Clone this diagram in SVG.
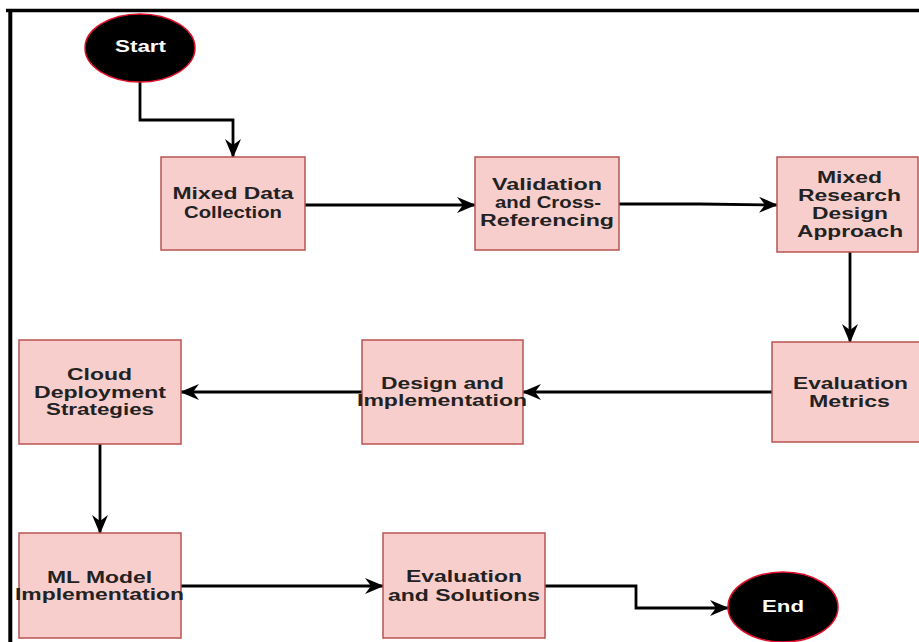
<svg xmlns="http://www.w3.org/2000/svg" width="919" height="642" viewBox="0 0 919 642">
<style>
.box{fill:#f8cecc;stroke:#b85450;stroke-width:1.5}
.term{fill:#000;stroke:#e0102a;stroke-width:1.5}
.t{font-family:"Liberation Sans",Arial,sans-serif;font-weight:bold;font-size:16px;fill:#222;text-anchor:middle}
.tw{font-family:"Liberation Sans",Arial,sans-serif;font-weight:bold;font-size:16px;fill:#fff;text-anchor:middle}
.c{fill:none;stroke:#000;stroke-width:2.8;marker-end:url(#arr)}
</style>
<defs>
<marker id="arr" viewBox="0 0 19 16" refX="18" refY="8" markerWidth="19" markerHeight="16" markerUnits="userSpaceOnUse" orient="auto">
<path d="M0,0 L19,8 L0,16 L6,8 z" fill="#000"/>
</marker>
</defs>
<rect width="919" height="642" fill="#fff"/>
<g id="frame">
<line x1="6" y1="10.5" x2="919" y2="10.5" stroke="#000" stroke-width="3.5"/>
<line x1="10.3" y1="9" x2="10.3" y2="642" stroke="#000" stroke-width="4"/>
</g>
<g id="connectors">
<path class="c" d="M140,82 V120 H233 V157"/>
<path class="c" d="M305,205 H475"/>
<path class="c" d="M619,204 H700 L777,205"/>
<path class="c" d="M850,252 V342"/>
<path class="c" d="M772,392 H523"/>
<path class="c" d="M362,392 H181"/>
<path class="c" d="M100,444 V533"/>
<path class="c" d="M181,586 H383"/>
<path class="c" d="M545,586 H636 V608 H728"/>
</g>
<g id="start">
<ellipse class="term" cx="140" cy="48" rx="55" ry="34"/>
<text class="tw" x="140.5" y="52" textLength="51" lengthAdjust="spacingAndGlyphs">Start</text>
</g>
<g id="n1">
<rect class="box" x="161" y="157" width="144" height="93"/>
<text class="t" x="233" y="199" textLength="121" lengthAdjust="spacingAndGlyphs">Mixed Data</text>
<text class="t" x="233" y="218" textLength="98" lengthAdjust="spacingAndGlyphs">Collection</text>
</g>
<g id="n2">
<rect class="box" x="475" y="157" width="144" height="93"/>
<text class="t" x="547" y="190" textLength="110" lengthAdjust="spacingAndGlyphs">Validation</text>
<text class="t" x="548" y="208" textLength="106" lengthAdjust="spacingAndGlyphs">and Cross-</text>
<text class="t" x="547" y="226" textLength="134" lengthAdjust="spacingAndGlyphs">Referencing</text>
</g>
<g id="n3">
<rect class="box" x="777" y="157" width="141" height="95"/>
<text class="t" x="849.5" y="183" textLength="65" lengthAdjust="spacingAndGlyphs">Mixed</text>
<text class="t" x="849.5" y="201" textLength="103" lengthAdjust="spacingAndGlyphs">Research</text>
<text class="t" x="850" y="219" textLength="76" lengthAdjust="spacingAndGlyphs">Design</text>
<text class="t" x="850" y="237" textLength="106" lengthAdjust="spacingAndGlyphs">Approach</text>
</g>
<g id="n4">
<rect class="box" x="772" y="342" width="150" height="100"/>
<text class="t" x="850.5" y="389" textLength="115" lengthAdjust="spacingAndGlyphs">Evaluation</text>
<text class="t" x="849.5" y="407" textLength="81" lengthAdjust="spacingAndGlyphs">Metrics</text>
</g>
<g id="n5">
<rect class="box" x="362" y="340" width="161" height="104"/>
<text class="t" x="442.5" y="389" textLength="123" lengthAdjust="spacingAndGlyphs">Design and</text>
<text class="t" x="442" y="406" textLength="170" lengthAdjust="spacingAndGlyphs">Implementation</text>
</g>
<g id="n6">
<rect class="box" x="19" y="340" width="162" height="104"/>
<text class="t" x="99.5" y="380" textLength="65" lengthAdjust="spacingAndGlyphs">Cloud</text>
<text class="t" x="100" y="398" textLength="132" lengthAdjust="spacingAndGlyphs">Deployment</text>
<text class="t" x="100" y="415" textLength="108" lengthAdjust="spacingAndGlyphs">Strategies</text>
</g>
<g id="n7">
<rect class="box" x="19" y="533" width="162" height="105"/>
<text class="t" x="99.5" y="583" textLength="105" lengthAdjust="spacingAndGlyphs">ML Model</text>
<text class="t" x="99.5" y="600" textLength="169" lengthAdjust="spacingAndGlyphs">Implementation</text>
</g>
<g id="n8">
<rect class="box" x="383" y="533" width="162" height="105"/>
<text class="t" x="464" y="582" textLength="116" lengthAdjust="spacingAndGlyphs">Evaluation</text>
<text class="t" x="464" y="601" textLength="152" lengthAdjust="spacingAndGlyphs">and Solutions</text>
</g>
<g id="end">
<ellipse class="term" cx="783" cy="607" rx="55" ry="35"/>
<text class="tw" x="783" y="612" textLength="42" lengthAdjust="spacingAndGlyphs">End</text>
</g>
</svg>
